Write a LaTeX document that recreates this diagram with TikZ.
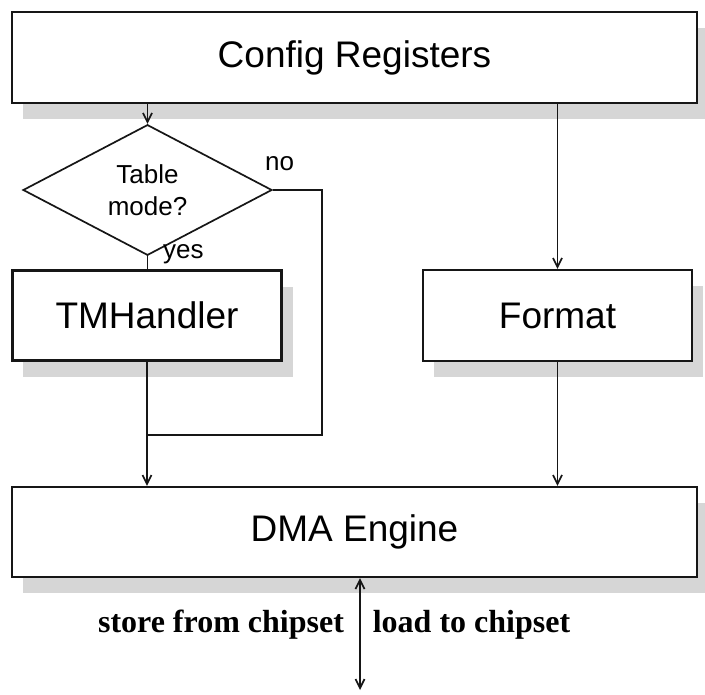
\documentclass[tikz,border=0pt]{standalone}
\usepackage{fontspec}
\setmainfont{Liberation Sans}
\newfontfamily\labelserif{Liberation Serif}
\usetikzlibrary{arrows.meta,shapes.geometric,shadows}

\definecolor{inkline}{HTML}{161616}
\definecolor{shadowgray}{HTML}{D6D6D6}

\tikzset{
  blockbox/.style={draw=inkline, line width=2.2bp, fill=white, rectangle,
    inner sep=0pt, font=\fontsize{37bp}{44bp}\selectfont,
    drop shadow={shadow xshift=11bp, shadow yshift=-16bp, fill=shadowgray, opacity=1}},
  decision/.style={draw=inkline, line width=1.7bp, fill=white, diamond,
    inner sep=0pt, align=center, font=\fontsize{26bp}{32bp}\selectfont},
  flow/.style={draw=inkline, line width=1.7bp},
  tip/.style={},
  arr/.style={flow, -{Straight Barb[length=9bp,width=9bp,line width=1.7bp]}},
  biarr/.style={flow, {Straight Barb[length=9bp,width=9bp,line width=1.7bp]}-{Straight Barb[length=9bp,width=9bp,line width=1.7bp]}},
  branch/.style={font=\fontsize{26bp}{32bp}\selectfont, inner sep=0pt},
  chiplabel/.style={font=\labelserif\bfseries\fontsize{32bp}{38bp}\selectfont, inner sep=0pt, anchor=base}
}

\begin{document}
\begin{tikzpicture}[x=1bp, y=-1bp]
  \useasboundingbox (0,0) rectangle (705,695);

  % blocks
  \node[blockbox, minimum width=685bp, minimum height=91bp] (cfg) at (354.5,57.5) {Config Registers};
  \node[blockbox, minimum width=269bp, minimum height=90bp] (tmh) at (147,315.5) {TMHandler};
  \node[blockbox, minimum width=269bp, minimum height=91bp] (fmt) at (557.5,315.5) {Format};
  \node[blockbox, minimum width=685bp, minimum height=90bp] (dma) at (354.5,532) {DMA Engine};

  % decision
  \node[decision, minimum width=249bp, minimum height=106bp] (dia) at (147.5,190) {Table\\mode?};

  % branch labels
  \node[branch, anchor=base west] (nolbl) at (265,170) {no};
  \node[branch, anchor=base west] (yeslbl) at (163,258) {yes};

  % helper points of the "no" route and the chipset port
  \coordinate (noturn) at (322,435);
  \coordinate (merge) at (tmh.south |- noturn);
  \coordinate (chip) at (360,690);

  % connectors
  \draw[arr] (cfg.south -| dia.north) -- (dia.north);
  \draw[arr] (cfg.south -| fmt.north) -- (fmt.north);
  \draw[flow] (dia.south) -- (tmh.north -| dia.south);
  \draw[flow] (dia.east) -| (noturn) -- (merge);
  \draw[arr] (tmh.south) -- (tmh.south |- dma.north);
  \draw[arr] (fmt.south) -- (fmt.south |- dma.north);
  \draw[biarr] (dma.south -| chip) -- (chip);

  % chipset labels
  \node[chiplabel] (storelbl) at (221,632) {store from chipset};
  \node[chiplabel] (loadlbl) at (471.5,632) {load to chipset};
\end{tikzpicture}
\end{document}
